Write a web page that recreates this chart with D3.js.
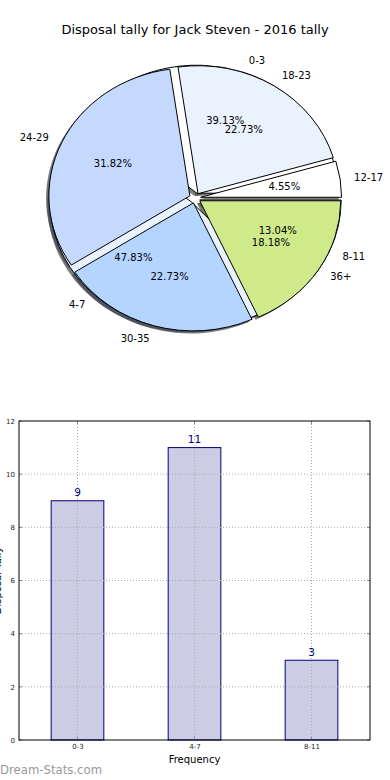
<!DOCTYPE html>
<html><head><meta charset="utf-8">
<script src="https://cdn.jsdelivr.net/npm/d3@7"></script>
<style>html,body{margin:0;padding:0;background:#fff;}svg{display:block;font-family:"DejaVu Sans",sans-serif;}</style>
</head><body>
<script>
const title = "Disposal tally for Jack Steven - 2016 tally";
const freqLabels = ["0-3", "4-7", "8-11"];
const freqValues = [9, 11, 3];
const ageLabels = ["12-17", "18-23", "24-29", "30-35", "36+"];
const ageValues = [1, 5, 7, 5, 4];
const sliceColors = ["#ffffff", "#eaf2fe", "#c5d9ff", "#b4d5ff", "#cfea8b"];
const barCats = ["0-3", "4-7", "8-11"];
const barValues = [9, 11, 3];
const yTicks = [0, 2, 4, 6, 8, 10, 12];

const W = 390, H = 780;
const svg = d3.select("body").append("svg").attr("width", W).attr("height", H);

svg.append("text").attr("x", 195).attr("y", 34).attr("text-anchor", "middle")
  .attr("font-size", 13).attr("fill", "#000").text(title);

// ---- Pie ----
const cx = 195, cy = 198, rx = 141, ry = 128, explode = 0.04;
const pieGen = d3.pie().sort(null).startAngle(Math.PI / 2).endAngle(Math.PI / 2 - 2 * Math.PI);
const arcGen = d3.arc().innerRadius(0).outerRadius(rx);

function prep(labels, values) {
  const tot = d3.sum(values);
  return pieGen(values).map((d, i) => {
    const m = (d.startAngle + d.endAngle) / 2;
    return { d, label: labels[i], pct: (values[i] / tot * 100).toFixed(2) + "%", color: sliceColors[i],
      m, ox: explode * rx * Math.sin(m), oy: -explode * ry * Math.cos(m) };
  });
}
const p1 = prep(freqLabels, freqValues);
const p2 = prep(ageLabels, ageValues);
const gShadow = svg.append("g"), gP1 = svg.append("g"), gP2 = svg.append("g"), gT = svg.append("g");

function drawPie(arr, g) {
  arr.forEach(s => {
    const c = d3.rgb(s.color);
    gShadow.append("path").attr("d", arcGen(s.d))
      .attr("transform", `translate(${cx + s.ox - 2.8},${cy + s.oy + 2.6}) scale(1,${ry / rx})`)
      .attr("fill", d3.rgb(c.r * 0.3, c.g * 0.3, c.b * 0.3)).attr("fill-opacity", 0.7);
    g.append("path").attr("d", arcGen(s.d))
      .attr("transform", `translate(${cx + s.ox},${cy + s.oy}) scale(1,${ry / rx})`)
      .attr("fill", s.color).attr("stroke", "#000").attr("stroke-width", 1)
      .attr("vector-effect", "non-scaling-stroke").attr("stroke-linejoin", "round");
    const sx = Math.sin(s.m), cyy = Math.cos(s.m);
    const lx = cx + s.ox + 1.1 * rx * sx, ly = cy + s.oy - 1.1 * ry * cyy;
    gT.append("text").attr("x", lx).attr("y", ly).attr("dy", "0.35em")
      .attr("text-anchor", lx > cx ? "start" : "end").attr("font-size", 10).text(s.label);
    gT.append("text").attr("x", cx + s.ox + 0.6 * rx * sx).attr("y", cy + s.oy - 0.6 * ry * cyy)
      .attr("dy", "0.35em").attr("text-anchor", "middle").attr("font-size", 10).text(s.pct);
  });
}
drawPie(p1, gP1);
drawPie(p2, gP2);

// ---- Bar chart ----
const L = 19, R = 370, T = 421, B = 740;
const x = d3.scaleLinear().domain([-0.5, 2.5]).range([L, R]);
const y = d3.scaleLinear().domain([0, 12]).range([B, T]);
const bw = 0.45;
const gb = svg.append("g");
barValues.forEach((v, i) => {
  gb.append("rect").attr("x", x(i - bw / 2)).attr("y", y(v))
    .attr("width", x(i + bw / 2) - x(i - bw / 2)).attr("height", y(0) - y(v))
    .attr("fill", "#ccccE5").attr("stroke", "#000080").attr("stroke-width", 1);
});
yTicks.slice(1, -1).forEach(t => {
  gb.append("line").attr("x1", L).attr("x2", R).attr("y1", y(t)).attr("y2", y(t))
    .attr("stroke", "#aaa").attr("stroke-width", 1).attr("stroke-dasharray", "1,2");
});
barCats.forEach((c, i) => {
  gb.append("line").attr("x1", x(i)).attr("x2", x(i)).attr("y1", T).attr("y2", B)
    .attr("stroke", "#aaa").attr("stroke-width", 1).attr("stroke-dasharray", "1,2");
});
yTicks.forEach(t => {
  gb.append("line").attr("x1", L).attr("x2", L + 3).attr("y1", y(t)).attr("y2", y(t)).attr("stroke", "#888");
  gb.append("line").attr("x1", R - 3).attr("x2", R).attr("y1", y(t)).attr("y2", y(t)).attr("stroke", "#888");
});
barCats.forEach((c, i) => {
  gb.append("line").attr("x1", x(i)).attr("x2", x(i)).attr("y1", B).attr("y2", B - 3).attr("stroke", "#888");
  gb.append("line").attr("x1", x(i)).attr("x2", x(i)).attr("y1", T).attr("y2", T + 3).attr("stroke", "#888");
});
gb.append("rect").attr("x", L).attr("y", T).attr("width", R - L).attr("height", B - T)
  .attr("fill", "none").attr("stroke", "#000").attr("stroke-width", 1);
const yAxis = d3.axisLeft(y).tickValues(yTicks).tickSize(0).tickPadding(4);
const ya = gb.append("g").attr("transform", `translate(${L},0)`).call(yAxis);
ya.select(".domain").remove();
ya.selectAll("text").attr("font-size", 7).attr("fill", "#222").attr("font-family", "DejaVu Sans");
const xAxis = d3.axisBottom(x).tickValues([0, 1, 2]).tickFormat(i => barCats[i]).tickSize(0).tickPadding(4);
const xa = gb.append("g").attr("transform", `translate(0,${B})`).call(xAxis);
xa.select(".domain").remove();
xa.selectAll("text").attr("font-size", 7).attr("fill", "#222").attr("font-family", "DejaVu Sans");
barValues.forEach((v, i) => {
  gb.append("text").attr("x", x(i)).attr("y", y(v) - 4.5).attr("text-anchor", "middle")
    .attr("font-size", 10.5).attr("fill", "#000080").text(v);
});
gb.append("text").attr("x", (L + R) / 2).attr("y", 763).attr("text-anchor", "middle")
  .attr("font-size", 10).text("Frequency");
gb.append("text").attr("transform", `translate(1,${(T + B) / 2}) rotate(-90)`).attr("text-anchor", "middle")
  .attr("font-size", 10).text("Disposal Tally");
svg.append("text").attr("x", 0).attr("y", 774).attr("font-size", 11.7).attr("fill", "#999").text("Dream-Stats.com");
</script>
</body></html>
